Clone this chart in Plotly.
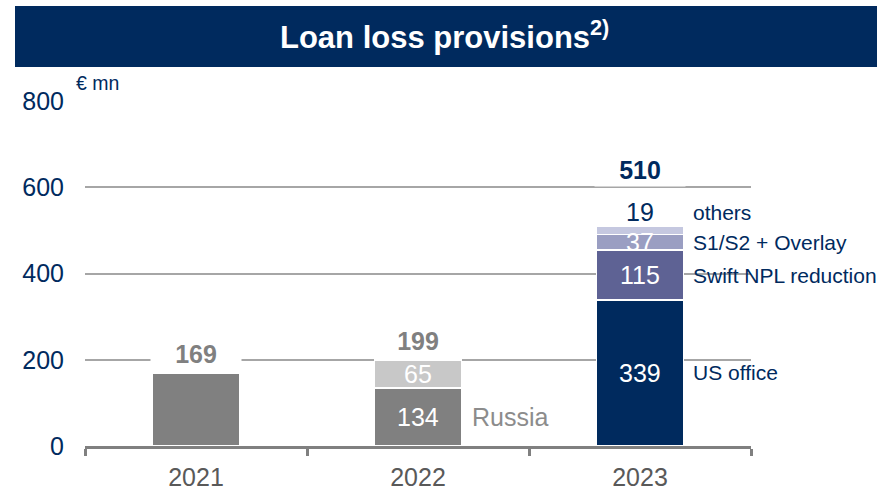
import plotly.graph_objects as go

# ---- data -------------------------------------------------------------
years = ["2021", "2022", "2023"]
seg1 = [169, 134, 339]          # bottom segment of each bar
seg2 = [None, 65, 115]
seg3 = [None, None, 37]
seg4 = [None, None, 19]
y_ticks = [0, 200, 400, 600, 800]
labels_2023 = ["US office", "Swift NPL reduction", "S1/S2 + Overlay", "others"]
label_2022 = "Russia"

# ---- styling ----------------------------------------------------------
NAVY = "#002A5E"
GRAY = "#808080"
LGRAY = "#C8C8C8"
PURPLE = "#5E6294"
LAVENDER = "#9A9EC2"
PALE = "#C5C8E0"
FONT = "Arial, Liberation Sans, sans-serif"
BAR_W = 0.39

seg_colors = [
    [GRAY, GRAY, NAVY],
    [LGRAY, LGRAY, PURPLE],
    [LAVENDER, LAVENDER, LAVENDER],
    [PALE, PALE, PALE],
]
segments = [seg1, seg2, seg3, seg4]

fig = go.Figure()
for vals, cols in zip(segments, seg_colors):
    fig.add_trace(go.Bar(
        x=years, y=vals, width=BAR_W,
        marker=dict(color=cols, line=dict(color="white", width=1.5)),
        hoverinfo="skip", showlegend=False,
    ))

annotations = []
totals = []
for i, year in enumerate(years):
    cum = 0
    parts = [s[i] for s in segments if s[i] is not None]
    for j, v in enumerate(parts):
        mid = cum + v / 2
        cum += v
        if len(parts) == 1:
            continue  # single-segment bar: only the total is shown
        if year == "2023" and j == len(parts) - 1:
            # smallest top slice: value written above the bar
            annotations.append(dict(x=i, y=cum, text=str(v), showarrow=False,
                                    yshift=14, font=dict(size=25, color=NAVY, family=FONT)))
        else:
            annotations.append(dict(x=i, y=mid, text=str(v), showarrow=False,
                                    font=dict(size=25, color="white", family=FONT)))
    totals.append(cum)

# totals above each bar
for i, t in enumerate(totals):
    is_last = i == len(years) - 1
    annotations.append(dict(
        x=i, y=t, text=f"<b>{t}</b>", showarrow=False,
        yshift=56 if is_last else 19,
        width=86, bgcolor="white" if i != 1 else "rgba(0,0,0,0)", borderpad=2,
        font=dict(size=25, color=NAVY if is_last else GRAY, family=FONT),
    ))

# category names beside the 2023 bar
cum = 0
for j, name in enumerate(labels_2023):
    v = segments[j][2]
    mid = cum + v / 2
    cum += v
    if j == len(labels_2023) - 1:
        annotations.append(dict(x=2 + BAR_W / 2, y=cum, yshift=14, xshift=8, xanchor="left",
                                text=name, showarrow=False,
                                font=dict(size=21, color=NAVY, family=FONT)))
    else:
        annotations.append(dict(x=2 + BAR_W / 2, y=mid, xshift=8, xanchor="left",
                                text=name, showarrow=False,
                                font=dict(size=21, color=NAVY, family=FONT)))

# label beside the 2022 bar
annotations.append(dict(x=1 + BAR_W / 2, y=seg1[1] / 2, xshift=9, xanchor="left",
                        text=label_2022, showarrow=False,
                        font=dict(size=25, color="#8C8C8C", family=FONT)))

# unit and header
annotations.append(dict(xref="paper", yref="paper", x=-0.016, y=1.052,
                        xanchor="left", yanchor="middle",
                        text="€ mn", showarrow=False,
                        font=dict(size=19.5, color=NAVY, family=FONT)))
annotations.append(dict(xref="paper", yref="paper", x=0.5405, y=1.19,
                        xanchor="center", yanchor="middle",
                        text="<b>Loan loss provisions<sup>2)</sup></b>", showarrow=False,
                        font=dict(size=31, color="white", family=FONT)))

fig.update_layout(
    width=891, height=490,
    margin=dict(l=85, r=140, t=101, b=44, autoexpand=False),
    paper_bgcolor="white", plot_bgcolor="white",
    barmode="stack",
    annotations=annotations,
    shapes=[dict(type="rect", xref="paper", yref="paper",
                 x0=-0.1051, x1=1.1892, y0=1.0986, y1=1.2754,
                 fillcolor=NAVY, line=dict(width=0), layer="below")],
    xaxis=dict(
        type="category", range=[-0.5, 2.5], automargin=False,
        showline=True, linecolor=GRAY, linewidth=3,
        ticks="outside", tickson="boundaries", ticklen=7, tickwidth=3, tickcolor=GRAY,
        showgrid=False, ticklabelstandoff=7,
        tickfont=dict(size=25, color="#595959", family=FONT),
    ),
    yaxis=dict(
        range=[0, 800], tickvals=y_ticks, showgrid=True, gridcolor="#A6A6A6", gridwidth=2,
        zeroline=False, showline=False, ticks="", ticklabelstandoff=20, automargin=False,
        tickfont=dict(size=25, color=NAVY, family=FONT),
    ),
)

fig.write_html("out.html")
